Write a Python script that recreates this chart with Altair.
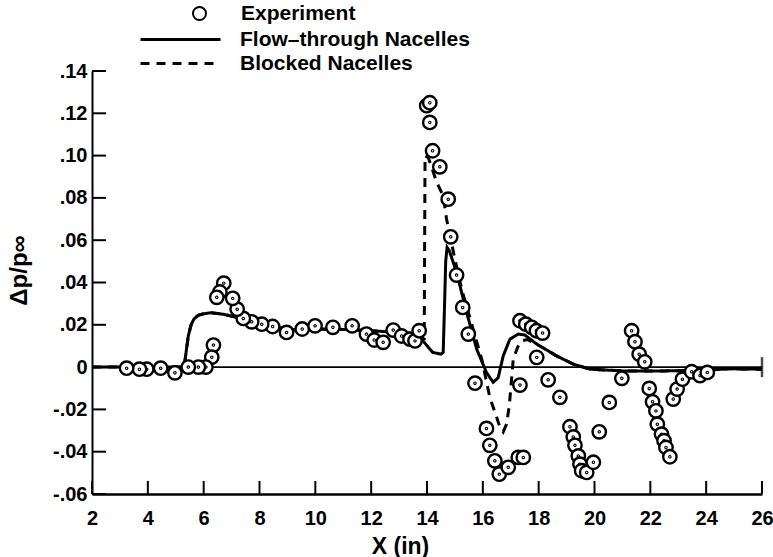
import altair as alt
import pandas as pd

# ---- data ----
x_ticks = [2, 4, 6, 8, 10, 12, 14, 16, 18, 20, 22, 24, 26]
y_ticks = [-0.06, -0.04, -0.02, 0.0, 0.02, 0.04, 0.06, 0.08, 0.10, 0.12, 0.14]

series_names = ["Experiment", "Flow\u2013through Nacelles", "Blocked Nacelles"]

flow_x = [2.0, 5.3, 5.38, 5.45, 5.55, 5.65, 5.8, 6.0, 6.25, 6.7, 7.1, 7.7, 8.5, 9.2,
          10.0, 11.0, 12.0, 12.8, 13.4, 13.7, 13.9, 14.2, 14.5, 14.58, 14.63, 14.67,
          14.72, 14.8, 15.06, 15.42, 15.78, 16.13, 16.37, 16.55, 16.73, 16.97, 17.27,
          17.5, 17.93, 18.64, 19.24, 19.84, 21.0, 22.5, 24.0, 24.8, 26.0]
flow_y = [0.0, 0.0, 0.008, 0.0148, 0.020, 0.0227, 0.0245, 0.0252, 0.0257, 0.025, 0.0238,
          0.0219, 0.019, 0.0176, 0.018, 0.0178, 0.0172, 0.0165, 0.016, 0.014, 0.0117,
          0.007, 0.0061, 0.007, 0.030, 0.050, 0.0566, 0.055, 0.0448, 0.0258, 0.0085,
          -0.0025, -0.0072, -0.005, 0.0053, 0.0132, 0.0156, 0.0152, 0.0109, 0.0053,
          0.0014, -0.001, -0.0018, -0.0018, -0.0015, -0.0008, -0.001]

blocked_x = [2.0, 5.3, 5.38, 5.45, 5.55, 5.65, 5.8, 6.0, 6.25, 6.7, 7.1, 7.7, 8.5, 9.2,
             10.0, 11.0, 12.0, 12.8, 13.4, 13.75, 13.9, 13.93, 14.05, 14.35, 14.58, 14.7,
             15.0, 15.24, 15.5, 15.96, 16.25, 16.49, 16.6, 16.73, 16.85, 16.95, 17.09,
             17.25, 17.39, 17.6, 17.93, 18.64, 19.24, 19.84, 21.0, 22.5, 24.0, 24.8, 26.0]
blocked_y = [0.0, 0.0, 0.008, 0.0148, 0.020, 0.0227, 0.0245, 0.0252, 0.0257, 0.025,
             0.0238, 0.0219, 0.019, 0.0176, 0.018, 0.0178, 0.0172, 0.0165, 0.016, 0.014,
             0.0135, 0.100, 0.099, 0.0873, 0.081, 0.070, 0.051, 0.0369, 0.025, 0.0038,
             -0.0143, -0.0235, -0.028, -0.0306, -0.027, -0.018, 0.0038, 0.0095, 0.0124,
             0.013, 0.0109, 0.0053, 0.0014, -0.001, -0.0018, -0.0018, -0.0015, -0.0008,
             -0.001]

exp_x = [8.97, 8.47, 8.08, 7.72, 7.42, 7.20, 7.04, 6.72, 6.58, 6.47, 6.35, 6.29, 6.08,
         5.81, 5.45, 4.97, 4.46, 3.96, 3.70, 3.24,
         9.53, 9.99, 10.63, 11.32, 11.83, 12.11, 12.43, 12.79, 13.09, 13.39, 13.57, 13.72,
         13.99, 14.10, 14.10, 14.20, 14.46, 14.76, 14.85, 15.06, 15.28, 15.48, 15.72,
         16.13, 16.25, 16.43, 16.59, 16.91, 17.27, 17.45, 17.33, 17.33, 17.54, 17.75,
         17.92, 18.14, 17.93, 18.34, 18.76, 19.12, 19.24, 19.30, 19.42, 19.48, 19.54,
         19.72, 19.96, 20.17, 20.53, 20.98, 21.33, 21.45, 21.60, 21.80, 21.96, 22.08,
         22.20, 22.25, 22.40, 22.49, 22.56, 22.70, 22.82, 22.96, 23.15, 23.48, 23.78,
         24.04]
exp_y = [0.0164, 0.0192, 0.0203, 0.0214, 0.0230, 0.0274, 0.0325, 0.0397, 0.0355, 0.0330,
         0.0104, 0.0047, 0.0, 0.0, 0.0, -0.0027, -0.0005, -0.001, -0.001, -0.0005,
         0.0180, 0.0195, 0.0188, 0.0195, 0.0156, 0.0128, 0.0117, 0.0175, 0.0147, 0.0132,
         0.0124, 0.0172,
         0.1236, 0.1250, 0.1157, 0.1023, 0.0947, 0.0794, 0.0616, 0.0435, 0.0282, 0.0156,
         -0.0076, -0.0290, -0.0370, -0.0443, -0.0506, -0.0474, -0.0427, -0.0427, -0.0085,
         0.0219, 0.0203, 0.0188, 0.0172, 0.0161, 0.0046, -0.0060, -0.0143, -0.0282,
         -0.0330, -0.0370, -0.0420, -0.0459, -0.0490, -0.0498, -0.0450, -0.0306, -0.0167,
         -0.0053, 0.0172, 0.0120, 0.0061, 0.0025, -0.0101, -0.0164, -0.0207, -0.0270,
         -0.0317, -0.0348, -0.0380, -0.0424, -0.0151, -0.0104, -0.0057, -0.0022, -0.0040,
         -0.0025]

# ---- chart ----
W, H = 670, 423
FONT = "Liberation Sans"

lines_df = pd.concat([
    pd.DataFrame({"x": flow_x, "y": flow_y, "series": series_names[1],
                  "i": list(range(len(flow_x)))}),
    pd.DataFrame({"x": blocked_x, "y": blocked_y, "series": series_names[2],
                  "i": list(range(len(blocked_x)))}),
], ignore_index=True)
exp_df = pd.DataFrame({"x": exp_x, "y": exp_y, "series": series_names[0]})
zero_df = pd.DataFrame({"x": [x_ticks[0], x_ticks[-1]], "y": [0.0, 0.0]})
xt_df = pd.DataFrame({"x": x_ticks})
yt_df = pd.DataFrame({"y": y_ticks})

xs = alt.Scale(domain=[x_ticks[0], x_ticks[-1]], nice=False, zero=False)
ys = alt.Scale(domain=[y_ticks[0], y_ticks[-1]], nice=False, zero=False)

label_expr = ("datum.value == 0 ? '0' : (datum.value < 0 ? '-' : '') + "
              "replace(format(abs(datum.value), '.2f'), '0.', '.')")

x_axis = alt.Axis(values=x_ticks, title="X (in)", ticks=False, grid=False,
                  domainColor="black", domainWidth=2.5, labelFont=FONT,
                  labelFontSize=20, labelFontWeight="bold", labelColor="black",
                  labelPadding=14, labelFlush=False, labelOverlap=False,
                  titleFont=FONT, titleFontSize=23, titleFontWeight="bold",
                  titleColor="black", titleX=308, titleY=59,
                  titleBaseline="alphabetic", titleAnchor="middle")
y_axis = alt.Axis(values=y_ticks, title="\u0394p/p\u221e", ticks=False, grid=False,
                  domainColor="black", domainWidth=2, labelFont=FONT,
                  labelFontSize=20, labelFontWeight="bold", labelColor="black",
                  labelPadding=5, labelExpr=label_expr, labelFlush=False,
                  labelOverlap=False,
                  titleFont=FONT, titleFontSize=24, titleFontWeight="bold",
                  titleColor="black", titleX=-73, titleY=199, titleAngle=270,
                  titleAlign="center", titleBaseline="middle")


def X():
    return alt.X("x:Q", scale=xs, axis=x_axis)


def Y():
    return alt.Y("y:Q", scale=ys, axis=y_axis)


zero_line = alt.Chart(zero_df).mark_line(color="black", strokeWidth=1.8).encode(
    x=X(), y=Y())
zero_end = alt.Chart(zero_df.tail(1)).mark_tick(
    orient="vertical", size=20, thickness=2.5, color="black").encode(x=X(), y=Y())

legend_common = dict(title=None, orient="none", padding=0, labelFont=FONT,
                     labelFontSize=21, labelFontWeight="bold", labelColor="black",
                     labelLimit=400)

lines = alt.Chart(lines_df).mark_line(color="black", strokeWidth=3).encode(
    x=X(), y=Y(),
    order="i:Q",
    strokeDash=alt.StrokeDash(
        "series:N",
        scale=alt.Scale(domain=series_names[1:], range=[[1, 0], [9, 7]]),
        legend=alt.Legend(legendX=77, legendY=-43, symbolType="M-4,0H4",
                          symbolSize=400, symbolStrokeWidth=3,
                          symbolStrokeColor="black", labelOffset=48, rowPadding=2,
                          **legend_common)),
)

ring_dot = ("M1,0A1,1 0 1,1 -1,0A1,1 0 1,1 1,0Z"
            "M0.08,0A0.08,0.08 0 1,1 -0.08,0A0.08,0.08 0 1,1 0.08,0Z")
points = alt.Chart(exp_df).mark_point(
    shape=ring_dot, size=180, filled=True, stroke="black", strokeWidth=2.4,
    opacity=1, fillOpacity=1).encode(
    x=X(), y=Y(),
    fill=alt.Fill(
        "series:N", scale=alt.Scale(domain=series_names[:1], range=["white"]),
        legend=alt.Legend(legendX=97, legendY=-68, symbolType="circle",
                          symbolSize=170, symbolStrokeColor="black",
                          symbolStrokeWidth=2, symbolFillColor="white",
                          labelOffset=31, **legend_common)),
)

x_tick_marks = alt.Chart(xt_df).mark_rule(color="black", strokeWidth=2).encode(
    x=X(), y=alt.value(H), y2=alt.value(H - 13))
y_tick_marks = alt.Chart(yt_df).mark_rule(color="black", strokeWidth=2).encode(
    y=Y(), x=alt.value(0), x2=alt.value(14))

chart = alt.layer(zero_line, zero_end, lines, points, x_tick_marks, y_tick_marks).properties(
    width=W, height=H,
    autosize=alt.AutoSizeParams(type="none"),
    padding={"left": 92, "top": 71, "right": 11, "bottom": 63},
    background="white",
).configure_view(stroke=None)

chart.save("out.html", embed_options={"renderer": "svg", "actions": False})
